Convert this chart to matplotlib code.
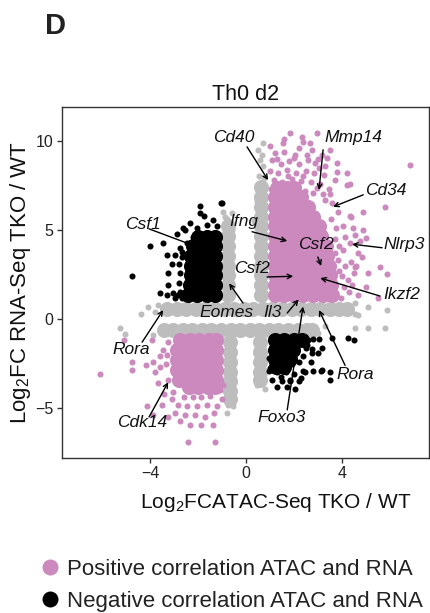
import matplotlib
matplotlib.use("Agg")
import matplotlib.pyplot as plt
from matplotlib.lines import Line2D

plt.rcParams['font.family'] = ['Liberation Sans', 'DejaVu Sans']
plt.rcParams['mathtext.fontset'] = 'custom'
plt.rcParams['mathtext.rm'] = 'Liberation Sans'
plt.rcParams['mathtext.it'] = 'Liberation Sans:italic'

# ---------------- data ----------------
# dense cores: rows of (y, [x values])
pink_core_rows = [
    (1.35, [1.2, 1.6, 2.0, 2.4, 2.8, 3.2, 3.6]),
    (1.9, [1.2, 1.6, 2.0, 2.4, 2.8, 3.2, 3.55]),
    (2.45, [1.2, 1.6, 2.0, 2.4, 2.8, 3.2, 3.5]),
    (3.0, [1.2, 1.6, 2.0, 2.4, 2.8, 3.2, 3.45]),
    (3.55, [1.2, 1.6, 2.0, 2.4, 2.8, 3.15, 3.4]),
    (4.1, [1.2, 1.6, 2.0, 2.4, 2.8, 3.1, 3.35]),
    (4.65, [1.2, 1.6, 2.0, 2.4, 2.8, 3.15]),
    (5.2, [1.2, 1.6, 2.0, 2.4, 2.8, 3.05]),
    (5.75, [1.2, 1.6, 2.0, 2.4, 2.8]),
    (6.3, [1.2, 1.6, 2.0, 2.35, 2.6]),
    (6.85, [1.2, 1.6, 2.0, 2.3]),
    (7.35, [1.3, 1.7, 2.0]),
    (-1.2, [-2.75, -2.35, -1.95, -1.55, -1.25]),
    (-1.75, [-2.9, -2.5, -2.1, -1.7, -1.25]),
    (-2.3, [-2.9, -2.5, -2.1, -1.7, -1.25]),
    (-2.85, [-2.9, -2.5, -2.1, -1.7, -1.25]),
    (-3.4, [-2.8, -2.4, -2.0, -1.6, -1.25]),
    (-3.8, [-2.4, -2.0, -1.6, -1.3]),
]
black_core_rows = [
    (1.35, [-2.45, -2.05, -1.65, -1.3]),
    (1.9, [-2.35, -1.95, -1.6, -1.3]),
    (2.45, [-2.3, -1.9, -1.55, -1.3]),
    (3.0, [-2.3, -1.9, -1.55, -1.3]),
    (3.55, [-2.3, -1.9, -1.55, -1.3]),
    (4.1, [-2.2, -1.85, -1.5, -1.3]),
    (4.6, [-2.0, -1.65, -1.3]),
    (-1.2, [1.2, 1.6, 2.0, 2.35]),
    (-1.75, [1.2, 1.6, 1.95]),
    (-2.25, [1.2, 1.55, 1.85]),
    (-2.7, [1.25, 1.6]),
]
gray_core_rows = [
    (0.55, [-3.3, -2.9, -2.5, -2.1, -1.7, -1.3, -0.9, -0.5, -0.1, 0.3, 0.7,
            1.1, 1.5, 1.9, 2.3, 2.7, 3.1, 3.5, 3.9, 4.2]),
    (-0.6, [-3.45, -3.05, -2.65, -2.25, -1.85, -1.45, -1.05, -0.65, -0.25,
            0.15, 0.55, 0.95, 1.35, 1.75, 2.15, 2.55, 2.75]),
]
gray_core_cols = [
    (0.63, [1.35, 1.9, 2.45, 3.0, 3.55, 4.1, 4.65, 5.2, 5.75, 6.3, 6.85, 7.4]),
    (-0.77, [1.35, 1.9, 2.45, 3.0, 3.55, 4.1, 4.65, 5.2]),
    (-0.68, [-1.3, -1.85, -2.4, -2.95, -3.5, -4.05, -4.5]),
    (0.6, [-1.3, -1.85, -2.4, -2.95, -3.4]),
]

# scattered individual points
pink_x = [1.84, 2.97, 1.55, 2.38, 2.68, 3.5, 1.21, 2.05, 2.55, 3.18, 3.8, 6.86,
          3.8, 4.2, 3.7, 4.2, 1.1, 1.45, 1.8, 2.2, 2.9, 3.3, 1.0, 1.35, 1.7,
          2.1, 2.5, 2.85, 3.25, 1.15, 1.5, 1.9, 2.3, 2.7, 3.1, 3.45, 2.45, 2.8,
          3.2, 1.05, 1.0, 2.2, 2.75, 3.0, 1.6, 1.3, 2.0, 2.6, 3.4, 1.75, 2.4,
          3.05, 1.25, 2.15, 2.95, 1.6, 2.35,
          4.9, 4.35, 4.06, 4.48, 4.56, 5.0, 4.35, 4.06, 4.7, 5.6, 4.35, 5.8,
          4.4, 4.9, 4.14, 4.77, 4.85, 4.14, 4.56, 5.1, 5.9, 4.27, 5.0, 5.5,
          4.7, 3.6, 3.85, 3.55, 3.75, 3.7, 3.9, 3.7, 3.85, 3.9, 4.0, 4.1, 4.3,
          3.95, 4.45, 4.5, 3.3, 3.5, 4.6, 4.4,
          -3.93, -3.47, -3.6, -3.3, -3.9, -4.2, -4.77, -4.77, -3.8, -3.6,
          -3.26, -3.05, -6.1, -5.1, -2.6, -2.2, -1.9, -1.5, -1.1, -2.85,
          -2.47, -2.05, -1.63, -1.2, -2.97, -2.55, -2.13, -1.7, -4.14, -3.5,
          -3.9, -3.26, -2.34, -1.9, -1.38, -2.43, -1.3, -3.1, -1.35, -2.75,
          -3.7, -3.45, -1.0, -0.95, -3.25, -3.35]
pink_y = [10.45, 10.45, 9.9, 9.94, 9.9, 9.5, 9.3, 9.2, 9.2, 9.2, 8.76, 8.65,
          8.26, 8.2, 7.8, 7.5, 8.9, 8.7, 8.85, 8.7, 8.75, 8.6, 8.3, 8.2, 8.35,
          8.2, 8.3, 8.2, 8.1, 7.8, 7.7, 7.85, 7.75, 7.7, 7.6, 7.3, 7.2, 7.1,
          7.0, 7.3, 9.7, 9.6, 9.5, 9.0, 9.4, 9.0, 9.05, 8.95, 9.05, 8.0, 8.0,
          8.45, 7.55, 7.45, 7.35, 10.1, 10.2,
          6.0, 5.8, 5.2, 5.1, 4.7, 4.55, 4.27, 3.9, 3.7, 2.9, 7.6, 6.3,
          5.7, 5.0, 4.6, 4.4, 3.5, 3.0, 2.9, 2.6, 2.5, 2.2, 1.8, 1.2,
          1.35, 6.5, 6.0, 5.6, 5.1, 4.5, 4.1, 3.7, 3.3, 2.7, 2.4, 1.8, 1.5,
          1.2, 1.9, 2.6, 6.7, 7.0, 3.0, 3.2,
          -1.18, -1.74, -2.1, -2.0, -2.4, -2.6, -2.4, -2.87, -3.0, -2.7,
          -3.4, -4.1, -3.1, -1.2, -4.4, -4.4, -4.4, -4.3, -4.0, -4.8,
          -4.9, -4.9, -4.8, -4.9, -5.3, -5.4, -5.4, -5.5, -4.9, -4.8,
          -5.4, -5.5, -5.95, -5.95, -5.95, -6.9, -6.9, -4.5, -5.3, -5.7,
          -3.6, -4.2, -4.5, -3.7, -1.3, -2.5]

black_x = [-4.77, -3.26, -3.26, -3.6, -3.3, -3.05, -2.97, -2.68, -2.76, -1.0,
           -1.93, -1.93, -1.38, -1.63, -2.05, -2.63, -4.0, -3.47, -3.3, -2.97,
           -2.68, -2.47, -2.2, -1.05, -2.55, -2.8, -2.75, -2.8, -2.7, -2.75,
           -2.9, -1.2, -1.75, -2.35, -3.1, -2.85,
           3.6, 4.27, 4.5, 3.5, 3.5, 2.05, 3.15, 2.6, 2.8, 3.05, 2.5, 2.75, 3.0,
           2.4, 2.7, 2.2, 1.9, 1.5, 1.1, 0.95, 1.3, 1.65, 2.0, 2.4, 1.1, 1.5,
           1.85, 2.2, 1.3, 0.95, 1.0, 1.84, 2.47, 2.8, 3.18, 2.76, 3.18, 2.55,
           1.7, 2.3, 1.45]
black_y = [2.42, 2.58, 1.9, 1.46, 1.35, 1.46, 1.18, 1.18, 1.5, 6.5,
           6.35, 5.96, 5.56, 5.28, 5.1, 5.1, 4.1, 4.27, 3.6, 3.6,
           3.76, 4.27, 4.6, 6.5, 5.0, 2.0, 2.6, 3.1, 3.5, 4.0,
           4.8, 5.2, 5.8, 5.4, 3.1, 1.35,
           -1.07, -1.07, -1.18, -3.0, -3.4, -3.9, -2.9, -1.2, -1.1, -1.1,
           -1.6, -1.7, -1.9, -2.1, -2.4, -2.4, -2.5, -2.6, -2.6, -2.9, -3.0,
           -3.0, -3.1, -2.9, -3.4, -3.5, -3.4, -3.5, -3.8, -2.2, -2.75, -3.5,
           -3.0, -2.9, -2.87, -1.9, -1.63, -1.46, -3.8, -3.3, -3.25]

gray_x = [-4.1, -3.8, -5.27, -5.06, 4.56, 5.1, 5.9, 4.56, 5.1, 5.8, 0.7, 0.67,
          0.7, 0.55, 0.75, 0.5, 0.6, -0.96, -0.6, -0.8, -0.6, -0.8, -0.55, 0.8,
          0.45, -4.4, -3.9, 4.7, 3.3, 3.0, -0.67, -0.75, 0.45, -0.6, 0.5,
          4.55, -3.7, -0.9, 0.35]
gray_y = [0.67, 0.4, -0.5, -0.84, 0.9, 0.67, 0.5, -0.5, -0.5, -0.5, 9.9, 9.2,
          8.6, 8.0, 7.9, 9.5, 8.9, 6.0, 5.95, 5.6, -4.3, -5.3, -4.9, -3.9,
          -3.7, 0.3, -0.9, 0.2, -0.4, -0.8, -4.4, -4.8, 6.6, 5.0, 7.3,
          0.3, 0.8, 5.7, 5.5]

# annotations: label, text position, arrow start and end
genes = ["Cd40", "Mmp14", "Cd34", "Nlrp3", "Csf2", "Ikzf2", "Ifng", "Csf2",
         "Eomes", "Il3", "Csf1", "Rora", "Cdk14", "Foxo3", "Rora"]
label_x = [-0.5, 4.48, 5.86, 6.61, 2.93, 6.49, -0.08, 0.25, -0.8, 1.09,
           -4.3, -4.81, -4.35, 1.5, 4.56]
label_y = [10.2, 10.17, 7.19, 4.16, 4.2, 1.4, 5.45, 2.86, 0.39, 0.39,
           5.3, -1.7, -5.8, -5.5, -3.1]
arrow_x0 = [0.04, 3.22, 4.9, 5.69, 3.0, 5.6, 0.25, 0.88, -0.13, 1.72,
            -4.06, -4.35, -4.06, 1.72, 4.14]
arrow_y0 = [9.66, 9.5, 6.97, 4.0, 3.48, 1.29, 4.9, 2.36, 0.9, 0.34,
            5.06, -1.3, -5.5, -5.1, -2.6]
arrow_x1 = [0.92, 3.05, 3.64, 4.43, 3.14, 3.1, 1.72, 1.97, -0.71, 2.2,
            -2.05, -3.47, -3.26, 2.38, 3.05]
arrow_y1 = [7.8, 7.25, 6.3, 4.2, 2.98, 2.3, 4.38, 2.4, 2.0, 1.1,
            4.05, 0.5, -3.55, 0.7, 0.5]

x_ticks = [-4, 0, 4]
y_ticks = [-5, 0, 5, 10]

legend_labels = ["Positive correlation ATAC and RNA",
                 "Negative correlation ATAC and RNA"]

PINK = '#cc89be'
GRAY = '#bdbdbd'
BLACK = '#000000'


def flatten_rows(rows):
    xs, ys = [], []
    for yv, xl in rows:
        for xv in xl:
            xs.append(xv)
            ys.append(yv)
    return xs, ys


def flatten_cols(cols):
    xs, ys = [], []
    for xv, yl in cols:
        for yv in yl:
            xs.append(xv)
            ys.append(yv)
    return xs, ys


fig = plt.figure(figsize=(4.31, 6.13), dpi=100)
ax = fig.add_axes([62 / 431, 1 - 458 / 613, (429 - 62) / 431, (458 - 107) / 613])

BIG = 118
SMALL = 19

gx1, gy1 = flatten_rows(gray_core_rows)
gx2, gy2 = flatten_cols(gray_core_cols)
ax.scatter(gx1 + gx2, gy1 + gy2, s=BIG, c=GRAY, linewidths=0, zorder=1)
ax.scatter(gray_x, gray_y, s=SMALL, c=GRAY, linewidths=0, zorder=1)

px, py = flatten_rows(pink_core_rows)
ax.scatter(px, py, s=BIG, c=PINK, linewidths=0, zorder=2)
ax.scatter(pink_x, pink_y, s=SMALL, c=PINK, linewidths=0, zorder=2)

bx, by = flatten_rows(black_core_rows)
ax.scatter(bx, by, s=BIG, c=BLACK, linewidths=0, zorder=3)
ax.scatter(black_x, black_y, s=SMALL, c=BLACK, linewidths=0, zorder=3)

for i, g in enumerate(genes):
    ax.annotate('', xy=(arrow_x1[i], arrow_y1[i]), xytext=(arrow_x0[i], arrow_y0[i]),
                arrowprops=dict(arrowstyle='->', lw=1.0, color='black',
                                shrinkA=0, shrinkB=0, mutation_scale=8),
                zorder=5)
    ax.text(label_x[i], label_y[i], g, fontsize=12.5, style='italic',
            ha='center', va='center', zorder=6, color='#111111')

ax.set_xlim(-7.7, 7.65)
ax.set_ylim(-7.8, 11.9)
ax.set_xticks(x_ticks)
ax.set_yticks(y_ticks)
ax.set_xticklabels(['\u22124', '0', '4'])
ax.set_yticklabels(['\u22125', '0', '5', '10'])
ax.tick_params(labelsize=11.5, length=3.5, width=1, color='#333333',
               labelcolor='#222222', pad=2.5)
for sp in ax.spines.values():
    sp.set_color('#333333')
    sp.set_linewidth(1.0)

ax.set_xlabel(r'Log$_2$FCATAC-Seq TKO / WT', fontsize=15, color='#111111')
ax.xaxis.set_label_coords((276 - 62) / 367, -0.095)
ax.set_ylabel(r'Log$_2$FC RNA-Seq TKO / WT', fontsize=16, color='#111111')
ax.yaxis.set_label_coords((33 - 62) / 367, 0.5)
ax.set_title('Th0 d2', fontsize=15.5, color='#111111', pad=5)

fig.text(45 / 431, 1 - 26 / 613, 'D', fontsize=21, fontweight='bold', va='center', ha='left',
         color='#222222')

handles = [Line2D([], [], marker='o', linestyle='', markersize=11.5, color=PINK,
                  markeredgewidth=0),
           Line2D([], [], marker='o', linestyle='', markersize=11.5, color=BLACK,
                  markeredgewidth=0)]
fig.legend(handles, legend_labels, loc='upper left', bbox_to_anchor=(26 / 431, 1 - 548 / 613),
           frameon=False, fontsize=16, handletextpad=0.15, handlelength=1.2,
           labelspacing=0.5, borderpad=0, labelcolor='#222222')

fig.savefig('out.png', dpi=100)
